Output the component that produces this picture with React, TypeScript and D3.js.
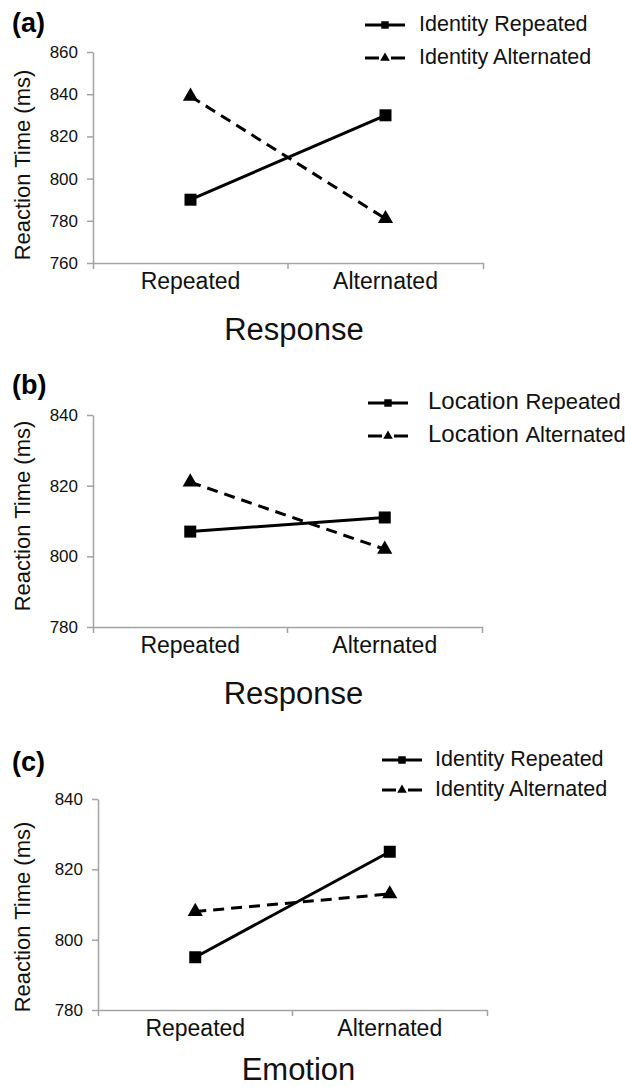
// Reaction-time interaction plots, three stacked panels (a)-(c).

import { useEffect, useRef } from "react";
import * as d3 from "d3";

const WIDTH = 625;
const HEIGHT = 1087;
const FONT = "'Liberation Sans', Arial, sans-serif";

const categories = ["Repeated", "Alternated"];

// panel (a) – response repetition x identity
const identityRepeatedA = [790, 830];
const identityAlternatedA = [839, 781];
const ticksA = [760, 780, 800, 820, 840, 860];

// panel (b) – response repetition x location
const locationRepeatedB = [807, 811];
const locationAlternatedB = [821, 802];
const ticksB = [780, 800, 820, 840];

// panel (c) – emotion repetition x identity
const identityRepeatedC = [795, 825];
const identityAlternatedC = [808, 813];
const ticksC = [780, 800, 820, 840];

const PANELS = [
  {
    tag: "(a)", tagY: 32, top: 52, bottom: 263, left: 93, right: 483,
    ticks: ticksA, xTitle: "Response", xTitleY: 340, yLabelY: 165,
    series: [
      { name: ["Identity", "Repeated"], values: identityRepeatedA, shape: "square", dashed: false },
      { name: ["Identity", "Alternated"], values: identityAlternatedA, shape: "triangle", dashed: true },
    ],
    legend: { x: 365, y: 25, dy: 33, textX: 419, first: 21.5, rest: 21.5 },
  },
  {
    tag: "(b)", tagY: 394, top: 415, bottom: 627, left: 93, right: 482,
    ticks: ticksB, xTitle: "Response", xTitleY: 704, yLabelY: 516,
    series: [
      { name: ["Location", "Repeated"], values: locationRepeatedB, shape: "square", dashed: false },
      { name: ["Location", "Alternated"], values: locationAlternatedB, shape: "triangle", dashed: true },
    ],
    legend: { x: 368, y: 403, dy: 33, textX: 428, first: 24, rest: 22 },
  },
  {
    tag: "(c)", tagY: 771, top: 799, bottom: 1010, left: 98, right: 487,
    ticks: ticksC, xTitle: "Emotion", xTitleY: 1080, yLabelY: 917,
    series: [
      { name: ["Identity", "Repeated"], values: identityRepeatedC, shape: "square", dashed: false },
      { name: ["Identity", "Alternated"], values: identityAlternatedC, shape: "triangle", dashed: true },
    ],
    legend: { x: 382, y: 760, dy: 30, textX: 435, first: 21.5, rest: 21.5 },
  },
];

const AXIS_GREY = "#a3a3a3";

function drawPanel(svg, p) {
  const g = svg.append("g");
  const x = d3.scaleBand().domain(categories).range([p.left, p.right]).padding(0);
  const y = d3.scaleLinear().domain(d3.extent(p.ticks)).range([p.bottom, p.top]);

  // y axis
  const ya = g.append("g")
    .attr("transform", `translate(${p.left},0)`)
    .call(d3.axisLeft(y).tickValues(p.ticks).tickSize(6).tickSizeOuter(0).tickPadding(9));
  ya.select(".domain").attr("stroke", AXIS_GREY).attr("stroke-width", 1.5);
  ya.selectAll(".tick line").attr("stroke", AXIS_GREY).attr("stroke-width", 1.5);
  ya.selectAll(".tick text")
    .attr("font-family", FONT).attr("font-size", 17).attr("fill", "#111");

  // x axis
  const xa = g.append("g")
    .attr("transform", `translate(0,${p.bottom})`)
    .call(d3.axisBottom(x).tickSizeInner(0).tickSizeOuter(6).tickPadding(10));
  xa.select(".domain").attr("stroke", AXIS_GREY).attr("stroke-width", 1.5);
  xa.selectAll(".tick text")
    .attr("font-family", FONT).attr("font-size", 23).attr("fill", "#111");
  // boundary tick between the two categories
  xa.append("line")
    .attr("x1", x(categories[1])).attr("x2", x(categories[1]))
    .attr("y1", 0).attr("y2", 6)
    .attr("stroke", AXIS_GREY).attr("stroke-width", 1.5);

  // titles
  g.append("text")
    .attr("x", 12).attr("y", p.tagY)
    .attr("font-family", FONT).attr("font-weight", "bold").attr("font-size", 27)
    .text(p.tag);
  g.append("text")
    .attr("transform", `translate(30,${p.yLabelY}) rotate(-90)`)
    .attr("text-anchor", "middle")
    .attr("font-family", FONT).attr("font-size", 22).attr("fill", "#111")
    .text("Reaction Time (ms)");
  g.append("text")
    .attr("x", (p.left + p.right) / 2 + 6).attr("y", p.xTitleY)
    .attr("text-anchor", "middle")
    .attr("font-family", FONT).attr("font-size", 31).attr("fill", "#111")
    .text(p.xTitle);

  const cx = (i) => x(categories[i]) + x.bandwidth() / 2;
  const line = d3.line().x((d, i) => cx(i)).y((d) => y(d));

  p.series.forEach((s) => {
    g.append("path")
      .datum(s.values)
      .attr("fill", "none")
      .attr("stroke", "#000")
      .attr("stroke-width", 3)
      .attr("stroke-dasharray", s.dashed ? "11 7" : null)
      .attr("d", line);
    const sym = d3.symbol()
      .type(s.shape === "square" ? d3.symbolSquare : d3.symbolTriangle)
      .size(s.shape === "square" ? 144 : 100);
    g.selectAll(null)
      .data(s.values)
      .join("path")
      .attr("transform", (d, i) => `translate(${cx(i)},${y(d)})`)
      .attr("fill", "#000")
      .attr("d", sym);
  });

  // legend
  const L = p.legend;
  p.series.forEach((s, i) => {
    const ly = L.y + i * L.dy;
    g.append("line")
      .attr("x1", L.x).attr("x2", L.x + 40)
      .attr("y1", ly).attr("y2", ly)
      .attr("stroke", "#000").attr("stroke-width", 3)
      .attr("stroke-dasharray", s.dashed ? "14 12" : null);
    g.append("path")
      .attr("transform", `translate(${L.x + 20},${ly})`)
      .attr("fill", "#000")
      .attr("d", d3.symbol()
        .type(s.shape === "square" ? d3.symbolSquare : d3.symbolTriangle)
        .size(s.shape === "square" ? 56 : 40)());
    const t = g.append("text")
      .attr("x", L.textX).attr("y", ly)
      .attr("dy", "0.35em")
      .attr("font-family", FONT).attr("fill", "#111");
    t.append("tspan").attr("font-size", L.first).text(s.name[0] + " ");
    t.append("tspan").attr("font-size", L.rest).text(s.name[1]);
  });
}

export default function App() {
  const svgRef = useRef(null);

  useEffect(() => {
    if (!svgRef.current) return;
    const svg = d3.select(svgRef.current);
    svg.selectAll("*").remove();
    PANELS.forEach((p) => drawPanel(svg, p));
  }, []);

  return (
    <div style={{ position: "absolute", left: 0, top: 0, background: "#fff" }}>
      <svg ref={svgRef} width={WIDTH} height={HEIGHT} viewBox={`0 0 ${WIDTH} ${HEIGHT}`} />
    </div>
  );
}
